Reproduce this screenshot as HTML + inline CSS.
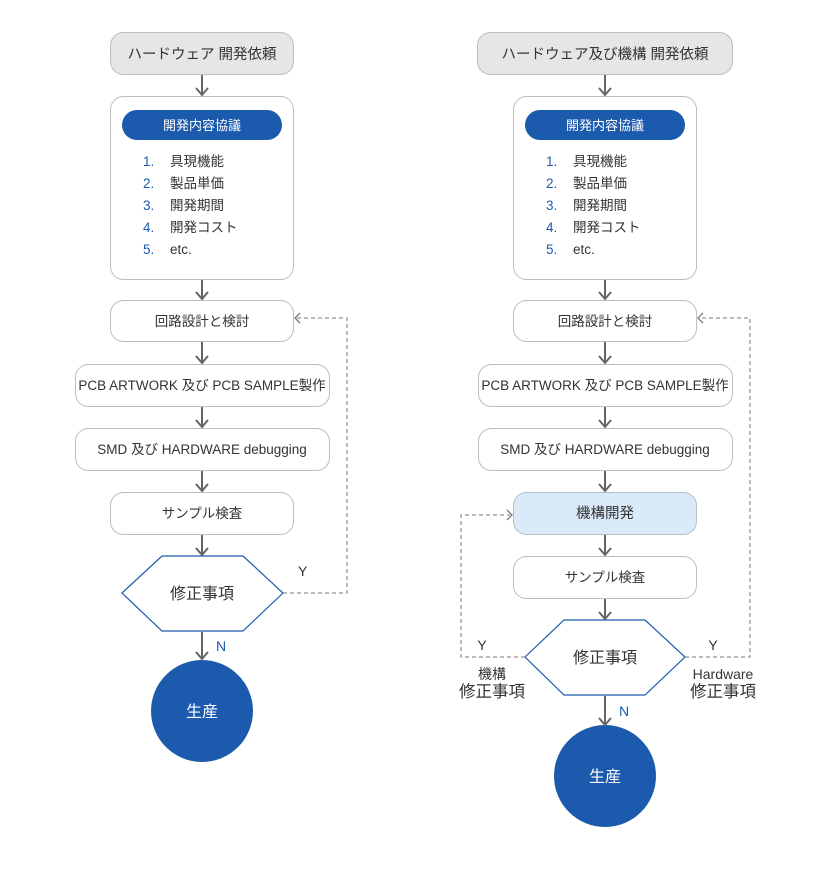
<!DOCTYPE html>
<html><head><meta charset="utf-8"><style>
html,body{margin:0;padding:0;background:#fff;}
svg{display:block;}
text{font-family:"Liberation Sans","Noto Sans CJK JP",sans-serif;fill:#333;}
</style></head><body>
<svg width="821" height="873" viewBox="0 0 821 873" xmlns="http://www.w3.org/2000/svg">
<g id="L">
<rect x="110.5" y="32.5" width="183" height="42" rx="13" fill="#e6e6e6" stroke="#b6bec6"/>
<text x="202" y="59" font-size="14.5" text-anchor="middle">ハードウェア 開発依頼</text>
<rect x="110.5" y="96.5" width="183" height="183" rx="13" fill="#fff" stroke="#b6bec6"/>
<rect x="122" y="110" width="160" height="30" rx="15" fill="#1c5aad"/>
<text x="202" y="130" font-size="13" text-anchor="middle" style="fill:#fff">開発内容協議</text>
<g font-size="13.5">
<text x="143" y="166" style="fill:#1c5aad">1.</text><text x="170" y="166">具現機能</text>
<text x="143" y="188" style="fill:#1c5aad">2.</text><text x="170" y="188">製品単価</text>
<text x="143" y="210" style="fill:#1c5aad">3.</text><text x="170" y="210">開発期間</text>
<text x="143" y="232" style="fill:#1c5aad">4.</text><text x="170" y="232">開発コスト</text>
<text x="143" y="254" style="fill:#1c5aad">5.</text><text x="170" y="254">etc.</text>
</g>
<rect x="110.5" y="300.5" width="183" height="41" rx="13" fill="#fff" stroke="#b6bec6"/>
<text x="202" y="326" font-size="13.5" text-anchor="middle">回路設計と検討</text>
<rect x="75.5" y="364.5" width="254" height="42" rx="13" fill="#fff" stroke="#b6bec6"/>
<text x="202" y="390" font-size="13.5" text-anchor="middle">PCB ARTWORK 及び PCB SAMPLE製作</text>
<rect x="75.5" y="428.5" width="254" height="42" rx="13" fill="#fff" stroke="#b6bec6"/>
<text x="202" y="454" font-size="13.5" text-anchor="middle">SMD 及び HARDWARE debugging</text>
<rect x="110.5" y="492.5" width="183" height="42" rx="13" fill="#fff" stroke="#b6bec6"/>
<text x="202" y="518" font-size="13.5" text-anchor="middle">サンプル検査</text>
<polygon points="122,593 162,556 243,556 283,593 243,631 162,631" fill="#fff" stroke="#1c5aad" stroke-width="1.2"/>
<text x="202" y="599" font-size="16" text-anchor="middle">修正事項</text>
<circle cx="202" cy="711" r="51" fill="#1c5aad"/>
<text x="202" y="717" font-size="16" text-anchor="middle" style="fill:#fff">生産</text>
<g stroke="#666" stroke-width="2" fill="none">
<line x1="202" y1="75" x2="202" y2="95"/><polyline points="196,88 202,95 208,88"/>
<line x1="202" y1="280" x2="202" y2="299"/><polyline points="196,292 202,299 208,292"/>
<line x1="202" y1="342" x2="202" y2="363"/><polyline points="196,356 202,363 208,356"/>
<line x1="202" y1="407" x2="202" y2="427"/><polyline points="196,420 202,427 208,420"/>
<line x1="202" y1="471" x2="202" y2="491"/><polyline points="196,484 202,491 208,484"/>
<line x1="202" y1="535" x2="202" y2="555"/><polyline points="196,548 202,555 208,548"/>
<line x1="202" y1="632" x2="202" y2="659"/><polyline points="196,652 202,659 208,652"/>
</g>
<g stroke="#777" stroke-width="1" fill="none" stroke-dasharray="4,3">
<polyline points="283,593 347,593 347,318 296,318"/>
</g>
<polyline points="300,313 295,318 300,323" stroke="#777" stroke-width="1.3" fill="none"/>
<text x="298" y="576" font-size="14">Y</text>
<text x="216" y="651" font-size="14" style="fill:#1c5aad">N</text>
</g>

<g id="R">
<rect x="477.5" y="32.5" width="255" height="42" rx="13" fill="#e6e6e6" stroke="#b6bec6"/>
<text x="605" y="59" font-size="14.5" text-anchor="middle">ハードウェア及び機構 開発依頼</text>
<rect x="513.5" y="96.5" width="183" height="183" rx="13" fill="#fff" stroke="#b6bec6"/>
<rect x="525" y="110" width="160" height="30" rx="15" fill="#1c5aad"/>
<text x="605" y="130" font-size="13" text-anchor="middle" style="fill:#fff">開発内容協議</text>
<g font-size="13.5">
<text x="546" y="166" style="fill:#1c5aad">1.</text><text x="573" y="166">具現機能</text>
<text x="546" y="188" style="fill:#1c5aad">2.</text><text x="573" y="188">製品単価</text>
<text x="546" y="210" style="fill:#1c5aad">3.</text><text x="573" y="210">開発期間</text>
<text x="546" y="232" style="fill:#1c5aad">4.</text><text x="573" y="232">開発コスト</text>
<text x="546" y="254" style="fill:#1c5aad">5.</text><text x="573" y="254">etc.</text>
</g>
<rect x="513.5" y="300.5" width="183" height="41" rx="13" fill="#fff" stroke="#b6bec6"/>
<text x="605" y="326" font-size="13.5" text-anchor="middle">回路設計と検討</text>
<rect x="478.5" y="364.5" width="254" height="42" rx="13" fill="#fff" stroke="#b6bec6"/>
<text x="605" y="390" font-size="13.5" text-anchor="middle">PCB ARTWORK 及び PCB SAMPLE製作</text>
<rect x="478.5" y="428.5" width="254" height="42" rx="13" fill="#fff" stroke="#b6bec6"/>
<text x="605" y="454" font-size="13.5" text-anchor="middle">SMD 及び HARDWARE debugging</text>
<rect x="513.5" y="492.5" width="183" height="42" rx="13" fill="#dbeaf9" stroke="#b6bec6"/>
<text x="605" y="518" font-size="14.5" text-anchor="middle">機構開発</text>
<rect x="513.5" y="556.5" width="183" height="42" rx="13" fill="#fff" stroke="#b6bec6"/>
<text x="605" y="582" font-size="13.5" text-anchor="middle">サンプル検査</text>
<polygon points="525,657 564,620 645,620 685,657 645,695 564,695" fill="#fff" stroke="#1c5aad" stroke-width="1.2"/>
<text x="605" y="663" font-size="16" text-anchor="middle">修正事項</text>
<circle cx="605" cy="776" r="51" fill="#1c5aad"/>
<text x="605" y="782" font-size="16" text-anchor="middle" style="fill:#fff">生産</text>
<g stroke="#666" stroke-width="2" fill="none">
<line x1="605" y1="75" x2="605" y2="95"/><polyline points="599,88 605,95 611,88"/>
<line x1="605" y1="280" x2="605" y2="299"/><polyline points="599,292 605,299 611,292"/>
<line x1="605" y1="342" x2="605" y2="363"/><polyline points="599,356 605,363 611,356"/>
<line x1="605" y1="407" x2="605" y2="427"/><polyline points="599,420 605,427 611,420"/>
<line x1="605" y1="471" x2="605" y2="491"/><polyline points="599,484 605,491 611,484"/>
<line x1="605" y1="535" x2="605" y2="555"/><polyline points="599,548 605,555 611,548"/>
<line x1="605" y1="599" x2="605" y2="619"/><polyline points="599,612 605,619 611,612"/>
<line x1="605" y1="696" x2="605" y2="725"/><polyline points="599,718 605,725 611,718"/>
</g>
<g stroke="#777" stroke-width="1" fill="none" stroke-dasharray="4,3">
<polyline points="685,657 750,657 750,318 699,318"/>
<polyline points="525,657 461,657 461,515 510,515"/>
</g>
<polyline points="703,313 698,318 703,323" stroke="#777" stroke-width="1.3" fill="none"/>
<polyline points="507,510 512,515 507,520" stroke="#777" stroke-width="1.3" fill="none"/>
<text x="482" y="650" font-size="14" text-anchor="middle">Y</text>
<text x="713" y="650" font-size="14" text-anchor="middle">Y</text>
<text x="492" y="679" font-size="14" text-anchor="middle">機構</text>
<text x="492" y="697" font-size="16.5" text-anchor="middle">修正事項</text>
<text x="723" y="679" font-size="14" text-anchor="middle">Hardware</text>
<text x="723" y="697" font-size="16.5" text-anchor="middle">修正事項</text>
<text x="619" y="716" font-size="14" style="fill:#1c5aad">N</text>
</g>
</svg>
</body></html>
